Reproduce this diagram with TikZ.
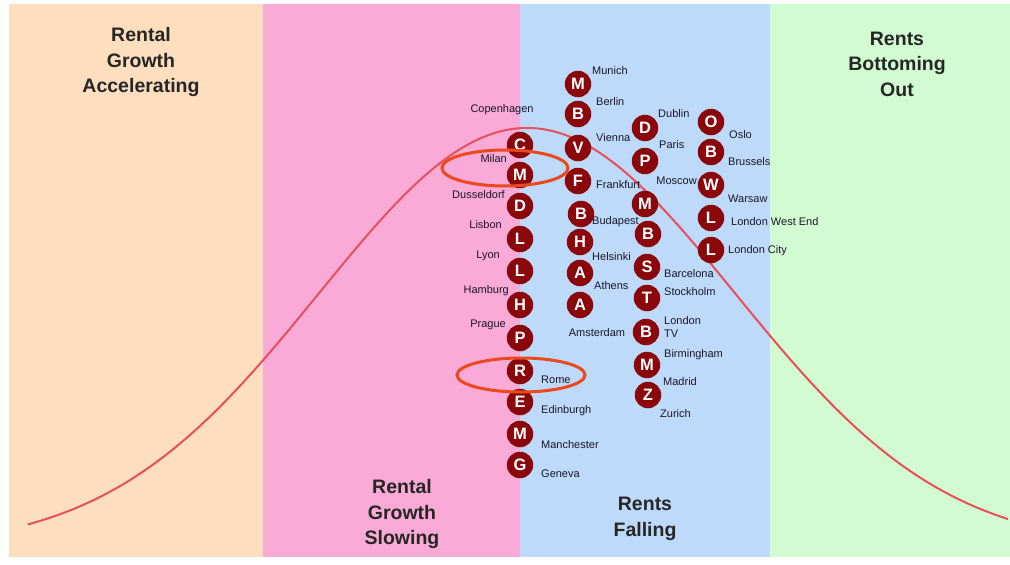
\documentclass[tikz,border=0pt]{standalone}
\usepackage{fontspec}
\setmainfont{Liberation Sans}
\definecolor{bandA}{RGB}{253,222,190}
\definecolor{bandB}{RGB}{250,170,214}
\definecolor{bandC}{RGB}{190,218,250}
\definecolor{bandD}{RGB}{210,251,210}
\definecolor{dot}{RGB}{138,8,12}
\definecolor{curvec}{RGB}{230,80,92}
\definecolor{ringc}{RGB}{236,72,30}
\definecolor{txt}{RGB}{25,22,40}
\tikzset{
  city/.style={circle,fill=dot,minimum size=26.5pt,inner sep=0pt,text=white,font=\fontsize{16.5}{16.5}\selectfont\bfseries},
  lab/.style={inner sep=0pt,text=txt,font=\fontsize{11}{13.5}\selectfont},
  labw/.style={lab,anchor=mid west},
  labe/.style={lab,anchor=mid east},
  phase/.style={align=center,text=black!85,font=\fontsize{19.5}{25.5}\selectfont\bfseries},
  ring/.style={draw=ringc,line width=3pt},
}
\begin{document}
\begin{tikzpicture}[x=1pt,y=-1pt]
\useasboundingbox (0,0) rectangle (1010,565);
\fill[white] (0,0) rectangle (1010,565);
% bands
\fill[bandA] (9,4) rectangle (263,557);
\fill[bandB] (263,4) rectangle (520,557);
\fill[bandC] (520,4) rectangle (770,557);
\fill[bandD] (770,4) rectangle (1010,557);
% phase titles
\node[phase] (t1) at (141,62) {Rental\\Growth\\Accelerating};
\node[phase] (t2) at (402,514) {Rental\\Growth\\Slowing};
\node[phase] (t3) at (645,519) {Rents\\Falling};
\node[phase] (t4) at (897,64) {Rents\\Bottoming\\Out};
% curve
\draw[curvec,line width=2pt] plot[domain=28:1008,samples=150,smooth] (\x,{548-420*exp(-0.5*((\x-527)/208)^2)});
% labels column 1
\node[lab] (lCop) at (502,110) {Copenhagen};
\node[labe] (lMil) at (507,160) {Milan};
\node[labe] (lDus) at (505,196) {Dusseldorf};
\node[labe] (lLis) at (502,226) {Lisbon};
\node[labe] (lLyo) at (500,256) {Lyon};
\node[labe] (lHam) at (509,291) {Hamburg};
\node[labe] (lPra) at (506,325) {Prague};
\node[labw] (lRom) at (541,381) {Rome};
\node[labw] (lEdi) at (541,411) {Edinburgh};
\node[labw] (lMan) at (541,446) {Manchester};
\node[labw] (lGen) at (541,475) {Geneva};
% labels column 2
\node[labw] (lMun) at (592,72) {Munich};
\node[labw] (lBer) at (596,103) {Berlin};
\node[labw] (lVie) at (596,139) {Vienna};
\node[labw] (lFra) at (596,186) {Frankfurt};
\node[labw] (lBud) at (592,222) {Budapest};
\node[labw] (lHel) at (592,258) {Helsinki};
\node[labw] (lAth) at (594,287) {Athens};
\node[lab] (lAms) at (597,333) {Amsterdam};
% labels column 3
\node[labw] (lDub) at (658,115) {Dublin};
\node[labw] (lPar) at (659,146) {Paris};
\node[labe] (lMos) at (697,182) {Moscow};
\node[labw] (lBar) at (664,275) {Barcelona};
\node[labw] (lSto) at (664,293) {Stockholm};
\node[lab,anchor=west,align=left] (lLTV) at (664,327) {London\\TV};
\node[labw] (lBir) at (664,355) {Birmingham};
\node[labw] (lMad) at (663,383) {Madrid};
\node[labw] (lZur) at (660,415) {Zurich};
% labels column 4
\node[labw] (lOsl) at (729,136) {Oslo};
\node[labw] (lBru) at (728,163) {Brussels};
\node[labw] (lWar) at (728,200) {Warsaw};
\node[labw] (lLWE) at (731,223) {London West End};
\node[labw] (lLCi) at (728,251) {London City};
% circles column 1
\node[city] (cCop) at (520,145) {C};
\node[city] (cMil) at (520,175) {M};
\node[city] (cDus) at (520,206) {D};
\node[city] (cLis) at (520,239) {L};
\node[city] (cLyo) at (520,271) {L};
\node[city] (cHam) at (520,305) {H};
\node[city] (cPra) at (520,338) {P};
\node[city] (cRom) at (520,371) {R};
\node[city] (cEdi) at (520,402) {E};
\node[city] (cMan) at (520,434) {M};
\node[city] (cGen) at (520,465) {G};
% circles column 2
\node[city] (cMun) at (578,84) {M};
\node[city] (cBer) at (578,114) {B};
\node[city] (cVie) at (578,148) {V};
\node[city] (cFra) at (578,181) {F};
\node[city] (cBud) at (581,214) {B};
\node[city] (cHel) at (580,242) {H};
\node[city] (cAth) at (580,273) {A};
\node[city] (cAms) at (580,305) {A};
% circles column 3
\node[city] (cDub) at (645,128) {D};
\node[city] (cPar) at (645,161) {P};
\node[city] (cMos) at (645,204) {M};
\node[city] (cBar) at (648,234) {B};
\node[city] (cSto) at (647,267) {S};
\node[city] (cTsk) at (647,298) {T};
\node[city] (cLTV) at (646,332) {B};
\node[city] (cBir) at (647,365) {M};
\node[city] (cMad) at (648,395) {Z};
% circles column 4
\node[city] (cOsl) at (711,122) {O};
\node[city] (cBru) at (711,152) {B};
\node[city] (cWar) at (711,185) {W};
\node[city] (cLWE) at (711,218) {L};
\node[city] (cLCi) at (711,250) {L};
% highlight rings
\draw[ring] (505,168) ellipse [x radius=63, y radius=18];
\draw[ring] (521,375) ellipse [x radius=64, y radius=17];
\end{tikzpicture}
\end{document}
